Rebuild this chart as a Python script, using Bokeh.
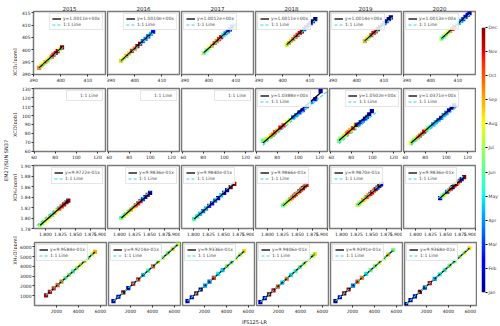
import numpy as np
from bokeh.plotting import figure
from bokeh.layouts import row, column
from bokeh.models import (LinearColorMapper, FixedTicker, Legend, LegendItem,
                          ColumnDataSource, Range1d, PrintfTickFormatter)
from bokeh.embed import file_html
from bokeh.resources import INLINE
from bokeh.core.properties import value

FONT = "DejaVu Sans"

# ---------------- data ----------------
years = ["2015", "2016", "2017", "2018", "2019", "2020"]
row_labels = ["XCO₂[ppm]", "XCO[ppb]", "XCH₄[ppm]", "XH₂O[ppm]"]
y_title = "EM27/SUN SN37"
x_title = "IFS125-LR"
month_names = ["Jan", "Feb", "Mar", "Apr", "May", "Jun",
               "Jul", "Aug", "Sep", "Oct", "Nov", "Dec"]
month_ticks = [1, 2, 3, 4, 5, 6, 7, 8, 9, 10, 11, 12]

x_lims = [(390.0, 416.5), (59.5, 127.5), (1.78, 1.90), (0, 6550)]
y_lims = [(389.8, 415.6), (59.5, 130.5), (1.78, 1.90), (0, 6450)]
x_ticks = [[390, 400, 410], [60, 80, 100, 120],
           [1.800, 1.825, 1.850, 1.875, 1.900], [2000, 4000, 6000]]
y_ticks = [[390, 395, 400, 405, 410, 415], [60, 70, 80, 90, 100, 110, 120, 130],
           [1.78, 1.80, 1.82, 1.84, 1.86, 1.88, 1.90],
           [1000, 2000, 3000, 4000, 5000, 6000]]
x_fmt = ["%d", "%d", "%.3f", "%d"]
y_fmt = ["%d", "%d", "%.2f", "%d"]

# fitted slopes (y = k x)
slope_xco2 = [1.0011, 1.0010, 1.0012, 1.0011, 1.0014, 1.0013]
slope_xco = [None, None, None, 1.0388, 1.0502, 1.0371]
slope_xch4 = [0.99722, 0.99836, 0.99840, 0.99866, 0.99870, 0.99836]
slope_xh2o = [0.99584, 0.99214, 0.99336, 0.99406, 0.99391, 0.99368]

# XCO2 [ppm]
xco2_ifs = [
    [392.1, 392.9, 393.6, 394.4, 395.2, 395.9, 396.7, 397.4, 398.2, 398.9, 399.7, 400.5],
    [395.0, 396.0, 397.0, 398.0, 399.0, 400.0, 401.0, 402.0, 403.0, 404.0, 405.0, 406.0, 406.8],
    [398.2, 399.2, 400.2, 401.2, 402.2, 403.0, 403.8, 404.6, 405.4, 406.2, 407.0, 407.8, 408.6, 409.4],
    [401.5, 402.3, 403.1, 403.9, 404.7, 405.5, 406.3, 407.1, 407.9, 408.7, 409.5, 410.3, 411.1, 412.0],
    [403.0, 403.8, 404.6, 405.4, 406.2, 407.0, 407.8, 408.6, 409.4, 410.2, 411.0, 411.8, 412.6],
    [404.0, 404.8, 405.6, 406.4, 407.2, 408.0, 408.8, 409.6, 410.4, 411.2, 412.0, 412.8, 413.6, 414.3],
]
xco2_em27 = [
    [392.5, 393.4, 394.1, 394.9, 395.6, 396.4, 397.1, 397.9, 398.6, 399.4, 400.1, 400.9],
    [395.4, 396.4, 397.4, 398.4, 399.5, 400.4, 401.4, 402.4, 403.5, 404.4, 405.4, 406.4, 407.3],
    [398.6, 399.7, 400.7, 401.6, 402.7, 403.5, 404.3, 405.1, 405.9, 406.7, 407.5, 408.3, 409.4, 409.9],
    [401.9, 402.7, 403.6, 404.3, 405.2, 406.0, 406.8, 407.5, 408.4, 409.2, 410.0, 410.8, 411.6, 412.5],
    [403.5, 404.4, 405.1, 405.9, 406.8, 407.5, 408.4, 409.2, 410.0, 410.8, 411.6, 412.5, 413.2],
    [404.5, 405.3, 406.1, 406.9, 407.7, 408.5, 409.3, 410.2, 410.9, 411.8, 412.5, 413.4, 414.2, 414.9],
]
xco2_month = [
    [9.5, 8.5, 8.0, 9.0, 8.5, 7.5, 10.0, 10.5, 11.0, 11.5, 8.0, 12.0],
    [8.5, 8.0, 9.0, 8.7, 10.5, 9.5, 11.5, 12.0, 3.5, 4.0, 3.0, 4.5, 2.5],
    [7.0, 6.5, 8.0, 9.0, 10.0, 9.5, 10.5, 11.0, 5.0, 4.0, 3.5, 2.0, 3.0, 4.5],
    [8.0, 9.0, 8.5, 9.5, 10.0, 10.5, 11.0, 11.5, 3.5, 2.5, 3.0, 2.0, 1.5, 1.0],
    [9.0, 8.5, 7.5, 10.0, 11.0, 10.5, 12.0, 11.5, 4.0, 3.0, 2.5, 1.5, 1.0],
    [7.0, 6.0, 8.0, 7.5, 9.0, 10.5, 11.0, 5.5, 4.5, 4.0, 3.0, 2.5, 2.0, 1.5],
]

# XCO [ppb] (no EM27 data before 2018)
xco_ifs = [
    [], [], [],
    [66.5, 68.0, 70.0, 72.0, 74.0, 76.0, 78.0, 80.0, 83.0, 86.0, 89.0, 92.0, 95.0, 98.0, 101.0, 104.0, 108.0, 112.0, 116.0, 121.0],
    [68.5, 70.0, 71.5, 73.0, 74.5, 76.0, 77.5, 79.0, 80.5, 82.0, 83.5, 85.0, 87.0, 89.0, 91.0, 93.0, 95.0, 97.0, 99.5],
    [66.5, 68.0, 69.5, 71.0, 73.0, 75.0, 77.0, 79.0, 81.0, 83.0, 85.0, 87.5, 90.0, 92.5, 95.0, 97.5, 100.0, 102.5, 105.0, 107.5],
]
xco_em27 = [
    [], [], [],
    [71.5, 72.0, 73.5, 75.0, 77.5, 78.5, 81.5, 83.0, 86.5, 89.0, 92.5, 95.0, 98.0, 100.5, 103.5, 106.0, 110.5, 115.0, 118.5, 127.5],
    [71.5, 74.0, 75.0, 77.0, 78.5, 80.0, 81.5, 83.5, 84.5, 86.0, 88.0, 89.5, 90.5, 92.5, 94.0, 96.5, 98.5, 101.5, 105.0],
    [69.0, 71.0, 72.5, 74.0, 75.5, 77.5, 79.5, 82.0, 84.0, 86.0, 87.5, 90.0, 92.5, 95.0, 97.5, 100.5, 103.0, 106.0, 109.0, 111.5],
]
xco_month = [
    [], [], [],
    [6.0, 6.5, 7.0, 8.0, 8.5, 9.5, 10.0, 9.0, 11.0, 10.5, 8.0, 7.5, 3.5, 4.0, 3.0, 2.5, 3.5, 4.0, 2.0, 1.5],
    [6.5, 6.0, 7.5, 7.0, 8.0, 9.5, 10.0, 9.0, 8.5, 11.0, 7.5, 12.0, 3.5, 3.0, 4.0, 2.5, 3.5, 2.0, 1.5],
    [8.0, 7.0, 6.5, 7.5, 9.0, 10.0, 9.5, 11.0, 8.5, 6.0, 5.5, 4.0, 4.5, 3.5, 3.0, 4.0, 3.5, 2.5, 2.0, 1.2],
]

# XCH4 [ppm]
xch4_ifs = [
    [1.791, 1.795, 1.799, 1.803, 1.807, 1.811, 1.815, 1.819, 1.823, 1.827, 1.831, 1.835, 1.838],
    [1.803, 1.807, 1.811, 1.815, 1.819, 1.823, 1.827, 1.831, 1.835, 1.839, 1.843, 1.847, 1.851],
    [1.801, 1.806, 1.811, 1.816, 1.821, 1.826, 1.831, 1.836, 1.841, 1.846, 1.851, 1.856, 1.862, 1.868],
    [1.826, 1.829, 1.832, 1.835, 1.838, 1.841, 1.844, 1.847, 1.850, 1.853, 1.856, 1.859, 1.862, 1.865],
    [1.827, 1.830, 1.833, 1.836, 1.839, 1.842, 1.845, 1.848, 1.851, 1.854, 1.857, 1.860, 1.863, 1.866],
    [1.841, 1.844, 1.847, 1.850, 1.853, 1.856, 1.859, 1.862, 1.865, 1.868, 1.871, 1.874, 1.877, 1.881],
]
xch4_em27 = [
    [1.786, 1.790, 1.794, 1.798, 1.802, 1.806, 1.810, 1.814, 1.818, 1.822, 1.826, 1.830, 1.833],
    [1.800, 1.804, 1.808, 1.812, 1.816, 1.820, 1.824, 1.828, 1.832, 1.836, 1.840, 1.844, 1.848],
    [1.798, 1.803, 1.808, 1.813, 1.818, 1.823, 1.828, 1.833, 1.838, 1.843, 1.848, 1.853, 1.859, 1.865],
    [1.824, 1.827, 1.830, 1.833, 1.836, 1.839, 1.842, 1.845, 1.848, 1.851, 1.854, 1.857, 1.860, 1.863],
    [1.825, 1.828, 1.831, 1.834, 1.837, 1.840, 1.843, 1.846, 1.849, 1.852, 1.855, 1.858, 1.861, 1.864],
    [1.838, 1.841, 1.844, 1.847, 1.850, 1.853, 1.856, 1.859, 1.862, 1.865, 1.868, 1.871, 1.874, 1.878],
]
xch4_month = [
    [7.0, 6.5, 8.0, 7.5, 8.5, 6.0, 9.0, 8.0, 10.0, 10.5, 11.0, 11.5, 12.0],
    [6.5, 7.0, 8.0, 7.5, 9.0, 8.5, 10.0, 10.5, 11.0, 3.0, 2.5, 12.0, 1.5],
    [6.0, 5.5, 4.5, 3.5, 4.0, 3.0, 2.5, 3.5, 2.0, 4.5, 1.5, 2.0, 12.0, 11.5],
    [6.5, 7.0, 8.0, 7.5, 9.0, 9.5, 10.0, 10.5, 9.0, 11.0, 10.0, 11.5, 10.5, 11.0],
    [7.5, 6.5, 8.0, 9.0, 8.5, 10.0, 9.5, 10.5, 11.0, 10.0, 11.5, 3.0, 12.0, 2.0],
    [1.5, 7.0, 6.5, 8.0, 2.0, 9.0, 10.5, 1.0, 11.0, 12.0, 10.0, 11.5, 2.5, 12.0],
]

# XH2O [ppm]
xh2o_ifs = [
    [1050, 1400, 1750, 2100, 2450, 2800, 3150, 3500, 3850, 4200, 4550, 4900, 5250, 5500],
    [450, 900, 1350, 1800, 2250, 2700, 3150, 3600, 4050, 4500, 4950, 5400, 5850, 6300],
    [450, 850, 1250, 1650, 2050, 2450, 2850, 3250, 3650, 4050, 4450, 4850, 5250, 5600],
    [350, 750, 1150, 1550, 1950, 2350, 2750, 3150, 3550, 3950, 4350, 4750, 5100, 5300],
    [450, 850, 1250, 1650, 2050, 2450, 2850, 3250, 3650, 4050, 4450, 4850, 5250, 5700],
    [150, 550, 950, 1400, 1850, 2300, 2750, 3200, 3650, 4100, 4550, 5000, 5450, 5900],
]
xh2o_em27 = [
    [1045, 1395, 1745, 2090, 2440, 2790, 3135, 3485, 3835, 4185, 4530, 4880, 5225, 5480],
    [445, 895, 1340, 1785, 2230, 2680, 3125, 3570, 4015, 4465, 4910, 5355, 5805, 6250],
    [448, 845, 1240, 1640, 2035, 2435, 2830, 3230, 3625, 4025, 4420, 4820, 5215, 5560],
    [348, 745, 1143, 1540, 1938, 2335, 2733, 3130, 3528, 3925, 4323, 4720, 5070, 5270],
    [447, 845, 1242, 1640, 2037, 2435, 2833, 3230, 3628, 4025, 4423, 4820, 5218, 5665],
    [149, 546, 944, 1391, 1838, 2285, 2733, 3180, 3627, 4074, 4521, 4968, 5416, 5863],
]
xh2o_month = [
    [11.5, 11.0, 10.5, 10.0, 9.5, 6.5, 7.0, 6.0, 7.5, 8.0, 8.5, 7.0, 8.0, 9.0],
    [1.5, 2.0, 12.0, 2.5, 11.0, 10.5, 4.5, 6.0, 10.0, 8.0, 7.5, 7.0, 8.5, 7.5],
    [1.5, 2.0, 12.0, 1.0, 4.0, 3.5, 10.5, 5.0, 4.5, 7.0, 6.5, 8.0, 7.5, 8.5],
    [1.5, 2.0, 12.0, 11.0, 10.0, 4.5, 9.5, 5.0, 6.0, 6.5, 7.5, 8.0, 7.0, 8.5],
    [1.0, 2.0, 12.0, 11.5, 3.5, 10.0, 9.5, 5.0, 6.5, 7.0, 8.0, 7.5, 8.5, 6.5],
    [1.0, 1.5, 2.0, 12.0, 3.0, 11.0, 4.0, 5.5, 6.0, 7.0, 6.5, 7.5, 8.0, 8.5],
]

ifs_rows = [xco2_ifs, xco_ifs, xch4_ifs, xh2o_ifs]
em27_rows = [xco2_em27, xco_em27, xch4_em27, xh2o_em27]
month_rows = [xco2_month, xco_month, xch4_month, xh2o_month]
slope_rows = [slope_xco2, slope_xco, slope_xch4, slope_xh2o]

# ---------------- style ----------------
legend_loc = [
    ["top_right", "top_right", "top_left", "top_left", "top_left", "top_left"],
    ["top_right", "top_right", "top_right", "top_left", "top_right", "top_left"],
    ["top_right", "top_right", "top_left", "top_left", "top_left", "top_left"],
    ["top_left"] * 6,
]


def jet(n=256):
    t = np.linspace(0, 1, n)
    r = np.interp(t, [0, 0.35, 0.66, 0.89, 1], [0, 0, 1, 1, 0.5])
    g = np.interp(t, [0, 0.125, 0.375, 0.64, 0.91, 1], [0, 0, 1, 1, 0, 0])
    b = np.interp(t, [0, 0.11, 0.34, 0.65, 1], [0.5, 1, 1, 0, 0])
    return ["#%02x%02x%02x" % (int(round(a * 255)), int(round(bb * 255)), int(round(c * 255)))
            for a, bb, c in zip(r, g, b)]


mapper = LinearColorMapper(palette=jet(), low=1, high=12)

FW, FH = 72, 63
LEFT_W = 17
B1 = 16
TOP1, TOPN, BOT, BOT_LAST = 11, 3, 11, 10
BOTTOM_H = 10
ONE2ONE = "#33d3e3"
TICK_FS = "4.5px"


def style_axis(ax, fmt, ticks):
    ax.ticker = FixedTicker(ticks=ticks)
    ax.formatter = PrintfTickFormatter(format=fmt)
    ax.axis_line_color = None
    ax.major_tick_out = 2
    ax.major_tick_in = 0
    ax.major_tick_line_color = "#333333"
    ax.minor_tick_line_color = None
    ax.major_label_text_font_size = TICK_FS
    ax.major_label_text_font = FONT
    ax.major_label_text_color = "#222222"
    ax.major_label_standoff = 1


def panel(r, c):
    first = c == 0
    p = figure(frame_width=FW, frame_height=FH,
               x_range=Range1d(*x_lims[r]), y_range=Range1d(*y_lims[r]),
               output_backend="svg", toolbar_location=None,
               min_border_left=B1 if first else 1, min_border_right=1,
               min_border_top=TOP1 if r == 0 else TOPN,
               min_border_bottom=BOT_LAST if r == 3 else BOT)
    p.outline_line_color = "#7a7a7a"
    p.outline_line_width = 1.5
    p.xgrid.visible = False
    p.ygrid.visible = False
    style_axis(p.xaxis[0], x_fmt[r], x_ticks[r])
    style_axis(p.yaxis[0], y_fmt[r], y_ticks[r])
    if not first:
        p.yaxis.visible = False
    if r == 0:
        p.title.text = years[c]
        p.title.align = "center"
        p.title.text_font_size = "5.5px"
        p.title.text_font_style = "normal"
        p.title.text_font = FONT
        p.title.text_color = "#222222"
        p.title.standoff = 2

    xs = ifs_rows[r][c]
    ys = em27_rows[r][c]
    ms = month_rows[r][c]
    k = slope_rows[r][c]
    items = []
    if xs:
        src = ColumnDataSource(dict(x=xs, y=ys, m=ms))
        p.scatter("x", "y", source=src, marker="square", size=4.2, line_color=None,
                  fill_color={"field": "m", "transform": mapper})
        x0, x1 = min(xs), max(xs)
        fit = p.line([x0, x1], [k * x0, k * x1], line_color="black", line_width=1.3)
        lo = min(min(xs), min(ys))
        hi = max(max(xs), max(ys))
        diag = p.line([lo, hi], [lo, hi], line_color=ONE2ONE, line_width=1.2, line_dash="3 2")
        items.append(LegendItem(label=f"y={k:.4e}x", renderers=[fit]))
        items.append(LegendItem(label="1:1 Line", renderers=[diag]))
    else:
        diag = p.line([], [], line_color=ONE2ONE, line_width=1.2, line_dash="3 2")
        items.append(LegendItem(label="1:1 Line", renderers=[diag]))
    leg = Legend(items=items, location=legend_loc[r][c],
                 label_text_font_size="4.5px", label_text_font=FONT,
                 glyph_width=9, glyph_height=5, label_height=5, label_standoff=2,
                 spacing=1, padding=2, margin=2,
                 border_line_color="#cccccc", border_line_width=1,
                 background_fill_alpha=0.85)
    p.add_layout(leg)
    return p


grid_rows = [row(*[panel(r, c) for c in range(6)]) for r in range(4)]

GRID_W = (B1 + FW + 1) + 5 * (FW + 2)
TOTAL_H = (TOP1 + FH + BOT) + 2 * (TOPN + FH + BOT) + (TOPN + FH + BOT_LAST) + BOTTOM_H

# bottom label
bot = figure(width=GRID_W, height=BOTTOM_H, x_range=Range1d(0, GRID_W), y_range=Range1d(0, BOTTOM_H),
             output_backend="svg", toolbar_location=None, min_border=0,
             x_axis_location=None, y_axis_location=None)
bot.outline_line_color = None
bot.grid.visible = False
bot.text(x=[B1 + (6 * FW + 10) / 2], y=[BOTTOM_H / 2 + 1], text=[x_title],
         text_font=value(FONT), text_font_size="5px", text_align="center",
         text_baseline="middle", text_color="#222222")

# left labels
lf = figure(width=LEFT_W, height=TOTAL_H, x_range=Range1d(0, LEFT_W), y_range=Range1d(0, TOTAL_H),
            output_backend="svg", toolbar_location=None, min_border=0,
            x_axis_location=None, y_axis_location=None)
lf.outline_line_color = None
lf.grid.visible = False
row_tops = [TOP1 + i * (FH + BOT + TOPN) for i in range(4)]
row_centers = [TOTAL_H - (t + FH / 2) for t in row_tops]
lf.text(x=[5], y=[TOTAL_H - 163], text=[y_title], angle=np.pi / 2, text_font=value(FONT),
        text_font_size="5px", text_align="center", text_baseline="middle", text_color="#222222")
lf.text(x=[14.5] * 4, y=row_centers, text=row_labels, angle=np.pi / 2, text_font=value(FONT),
        text_font_size="5px", text_align="center", text_baseline="middle", text_color="#222222")

# colorbar
CB_TOP, CB_H = 27, 265
cb = figure(frame_width=4, frame_height=CB_H, x_range=Range1d(0, 1), y_range=Range1d(1, 12),
            output_backend="svg", toolbar_location=None,
            min_border_left=4, min_border_right=14, min_border_top=CB_TOP,
            min_border_bottom=TOTAL_H - CB_TOP - CB_H,
            y_axis_location="right", x_axis_location=None)
cb.outline_line_color = None
cb.grid.visible = False
cb.image(image=[np.linspace(1, 12, 256).reshape(256, 1)], x=0, y=1, dw=1, dh=11, color_mapper=mapper)
cb.yaxis.ticker = FixedTicker(ticks=month_ticks)
cb.yaxis.major_label_overrides = {t: n for t, n in zip(month_ticks, month_names)}
cb.yaxis.axis_line_color = None
cb.yaxis.major_tick_out = 2
cb.yaxis.major_tick_in = 0
cb.yaxis.minor_tick_line_color = None
cb.yaxis.major_label_text_font_size = TICK_FS
cb.yaxis.major_label_text_font = FONT
cb.yaxis.major_label_standoff = 1

layout = row(lf, column(*grid_rows, bot), cb)

open("out.html", "w").write(file_html(layout, INLINE, "chart"))
